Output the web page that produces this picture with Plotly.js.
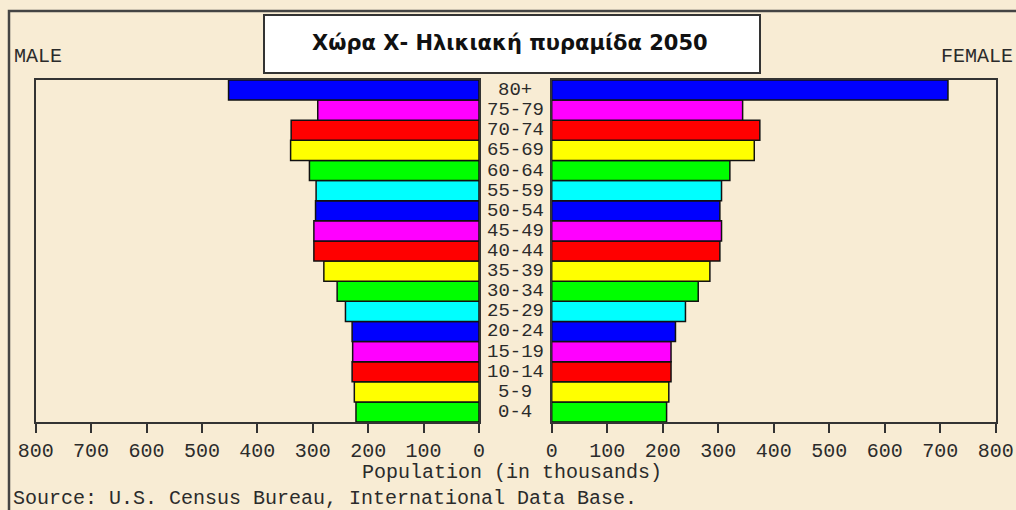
<!DOCTYPE html>
<html>
<head>
<meta charset="utf-8">
<script src="https://cdn.plot.ly/plotly-3.0.1.min.js"></script>
<style>html,body{margin:0;padding:0;background:#F8ECD4;}#chart{width:1016px;height:510px;}</style>
</head>
<body>
<div id="chart"></div>
<script>
var ageGroups = ["0-4","5-9","10-14","15-19","20-24","25-29","30-34","35-39","40-44","45-49","50-54","55-59","60-64","65-69","70-74","75-79","80+"];
var maleValues = [222, 225, 229, 228, 229, 241, 256, 280, 298, 298, 295, 294, 306, 340, 339, 291, 452];
var femaleValues = [207, 211, 215, 215, 223, 241, 264, 285, 303, 306, 303, 306, 321, 365, 375, 344, 714];
var tickValues = [0, 100, 200, 300, 400, 500, 600, 700, 800];
var colorCycle = ["#00FF00", "#FFFF00", "#FF0000", "#FF00FF", "#0000FF", "#00FFFF"];
var titleText = "Χώρα Χ- Ηλικιακή πυραμίδα 2050";

var W = 1016, H = 510;
function px(x){ return x / W; }
function py(y){ return 1 - y / H; }

var barColors = ageGroups.map(function(_, i){ return colorCycle[i % colorCycle.length]; });
var mono = "Liberation Mono, DejaVu Sans Mono, monospace";
var txt = "#2b2b2b";
var bg = "#F8ECD4";

var traces = [
  {type: "bar", orientation: "h", x: maleValues, y: ageGroups, xaxis: "x", yaxis: "y",
   width: 1, marker: {color: barColors, line: {color: "#111", width: 1.5}}, hoverinfo: "x+y"},
  {type: "bar", orientation: "h", x: femaleValues, y: ageGroups, xaxis: "x2", yaxis: "y2",
   width: 1, marker: {color: barColors, line: {color: "#111", width: 1.5}}, hoverinfo: "x+y"}
];

var axisCommon = {
  showgrid: false, zeroline: false, showline: true, linecolor: "#333", linewidth: 2,
  ticks: "outside", ticklen: 9, tickwidth: 2, tickcolor: "#333",
  tickfont: {family: mono, size: 20, color: txt}, tickvals: tickValues, fixedrange: true
};

var annotations = ageGroups.map(function(a){
  return {xref: "paper", yref: "y", x: px(515), y: a, text: a, showarrow: false,
          xanchor: "center", yanchor: "middle", font: {family: mono, size: 19, color: txt}};
});
annotations.push(
  {xref: "paper", yref: "paper", x: px(510), y: py(43), text: titleText, showarrow: false,
   xanchor: "center", yanchor: "middle", font: {family: "DejaVu Sans, sans-serif", size: 21, color: "#111", weight: "bold"}},
  {xref: "paper", yref: "paper", x: px(12), y: py(56), text: "MALE", showarrow: false,
   xanchor: "left", yanchor: "middle", font: {family: mono, size: 20, color: txt}},
  {xref: "paper", yref: "paper", x: px(1015), y: py(56), text: "FEMALE", showarrow: false,
   xanchor: "right", yanchor: "middle", font: {family: mono, size: 20, color: txt}},
  {xref: "paper", yref: "paper", x: px(512), y: py(472), text: "Population (in thousands)", showarrow: false,
   xanchor: "center", yanchor: "middle", font: {family: mono, size: 20, color: txt}},
  {xref: "paper", yref: "paper", x: px(11), y: py(498), text: "Source: U.S. Census Bureau, International Data Base.", showarrow: false,
   xanchor: "left", yanchor: "middle", font: {family: mono, size: 20, color: txt}}
);

var layout = {
  width: W, height: H,
  margin: {l: 0, r: 0, t: 0, b: 0, pad: 0},
  paper_bgcolor: bg, plot_bgcolor: bg,
  showlegend: false, bargap: 0,
  xaxis: Object.assign({}, axisCommon, {domain: [px(35.7), px(479)], range: [800, 0], anchor: "y", mirror: true}),
  xaxis2: Object.assign({}, axisCommon, {domain: [px(551.7), px(995.7)], range: [0, 800], anchor: "y2", mirror: true}),
  yaxis: {domain: [py(422), py(80)], type: "category", categoryorder: "array", categoryarray: ageGroups,
          range: [-0.5, ageGroups.length - 0.5], showticklabels: false, ticks: "", showgrid: false,
          zeroline: false, showline: true, linecolor: "#333", linewidth: 2, mirror: true, anchor: "x", fixedrange: true},
  yaxis2: {domain: [py(422), py(80)], type: "category", categoryorder: "array", categoryarray: ageGroups,
           range: [-0.5, ageGroups.length - 0.5], showticklabels: false, ticks: "", showgrid: false,
           zeroline: false, showline: true, linecolor: "#333", linewidth: 2, mirror: true, anchor: "x2", side: "right", fixedrange: true},
  shapes: [
    {type: "rect", xref: "paper", yref: "paper", x0: px(9), x1: px(1040), y0: py(540), y1: py(11),
     line: {color: "#444", width: 2.5}, fillcolor: "rgba(0,0,0,0)", layer: "below"},
    {type: "rect", xref: "paper", yref: "paper", x0: px(264), x1: px(760), y0: py(73), y1: py(15),
     line: {color: "#333", width: 2}, fillcolor: "#FFFFFF", layer: "above"}
  ],
  annotations: annotations
};

Plotly.newPlot("chart", traces, layout, {displayModeBar: false, staticPlot: true});
</script>
</body>
</html>
